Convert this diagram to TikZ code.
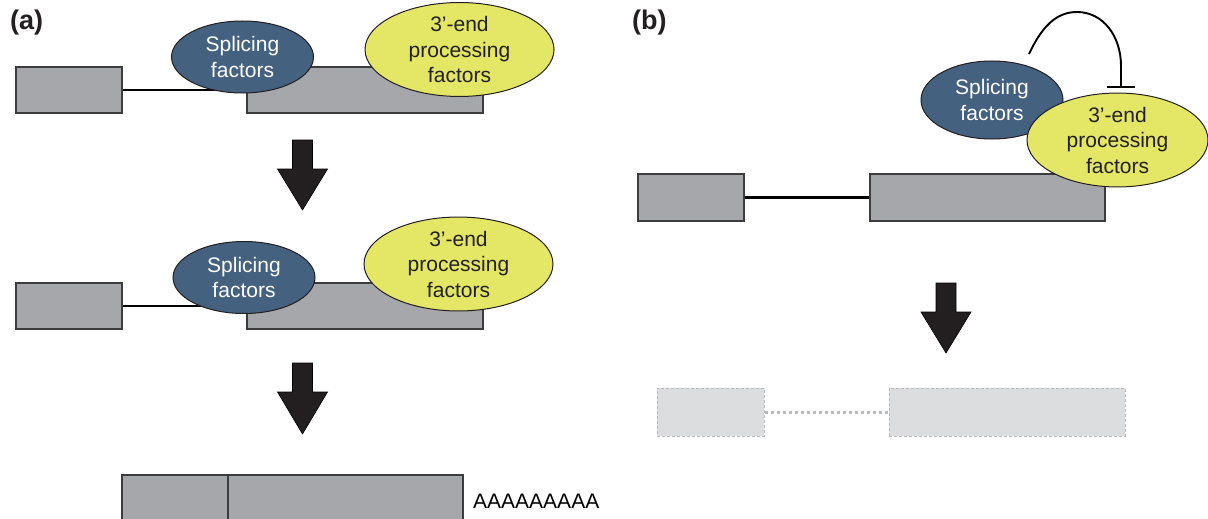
\documentclass[tikz,border=0pt]{standalone}
\usepackage{fontspec}
\setmainfont{Liberation Sans}
\usetikzlibrary{shapes.geometric,arrows.meta}

\definecolor{exongray}{HTML}{A6A7AB}
\definecolor{exonedge}{HTML}{3C3C3E}
\definecolor{splblue}{HTML}{44617F}
\definecolor{procyellow}{HTML}{E4E666}
\definecolor{fadefill}{HTML}{DCDDDF}
\definecolor{fadeedge}{HTML}{B9BABC}
\definecolor{inkblack}{HTML}{231F20}

\tikzset{
  exon/.style={rectangle, draw=exonedge, line width=1.3pt, fill=exongray,
               inner sep=0pt, minimum height=46pt},
  fadedexon/.style={rectangle, draw=fadeedge, line width=1pt,
               dash pattern=on 3pt off 2pt, fill=fadefill,
               inner sep=0pt, minimum height=48pt},
  intron/.style={draw=black, line width=2.8pt},
  fadedintron/.style={draw=fadeedge, line width=3pt, dash pattern=on 3pt off 3pt},
  factor/.style={ellipse, draw=inkblack, line width=1pt, inner sep=0pt,
               align=center, font=\fontsize{21}{25.5}\selectfont},
  splicing/.style={factor, fill=splblue, text=white,
               minimum width=142pt, minimum height=72pt},
  processing/.style={factor, fill=procyellow, text=inkblack,
               minimum width=189pt, minimum height=81pt},
  blockarrow/.style={fill=inkblack, draw=black, line width=0.6pt, line join=miter},
  panel/.style={font=\fontsize{27}{31}\selectfont\bfseries, text=inkblack,
               anchor=north west, inner sep=0pt},
}

% big downward block arrow: centre x, shaft top, head top, tip
\newcommand{\downblock}[4]{%
  \fill[blockarrow] (#1-10,#2) -- (#1+10,#2) -- (#1+10,#3) -- (#1+25,#3)
     -- (#1,#4) -- (#1-25,#3) -- (#1-10,#3) -- cycle;}

\begin{document}
\begin{tikzpicture}[x=1pt,y=-1pt]
\useasboundingbox (0,0) rectangle (1208,519);
\fill[white] (0,0) rectangle (1208,519);

% ---------------- panel (a) ----------------
\node[panel] (labA) at (10,10) {(a)};

% pre-mRNA with bound factors
\node[exon, minimum width=106pt] (a1e1) at (69,90) {};
\node[exon, minimum width=236pt] (a1e2) at (365,90) {};
\draw[intron] (a1e1.east) -- (a1e2.west);
\node[splicing] (a1spl) at (242.5,57) {Splicing\\factors};
\node[processing] (a1pro) at (459.5,49.5) {3’-end\\processing\\factors};

\downblock{302.5}{140}{169}{210}

% second state
\node[exon, minimum width=106pt] (a2e1) at (69,306) {};
\node[exon, minimum width=236pt] (a2e2) at (365,306) {};
\draw[intron] (a2e1.east) -- (a2e2.west);
\node[splicing] (a2spl) at (244,277.5) {Splicing\\factors};
\node[processing] (a2pro) at (458.5,264) {3’-end\\processing\\factors};

\downblock{302.5}{363}{392}{434}

% mature mRNA
\node[exon, minimum width=106pt] (m1) at (175,498) {};
\node[exon, minimum width=235pt] (m2) at (345.5,498) {};
\node[anchor=base west, inner sep=0pt, font=\fontsize{21}{25}\selectfont,
      text=black] (polyA) at (473,508) {AAAAAAAAA};

% ---------------- panel (b) ----------------
\node[panel] (labB) at (632,10) {(b)};

\node[exon, minimum width=106pt, minimum height=47pt] (b1e1) at (691,197.5) {};
\node[exon, minimum width=235pt, minimum height=47pt] (b1e2) at (987.5,197.5) {};
\draw[intron] (b1e1.east) -- (b1e2.west);

\node[splicing, minimum height=78pt] (bspl) at (992,100) {Splicing\\factors};
\node[processing, minimum width=181pt, minimum height=80pt] (bpro) at (1117.5,140) {3’-end\\processing\\factors};

% inhibition of 3'-end processing by the splicing factors
\coordinate (inhA) at (1029,54);
\coordinate (inhB) at (1121,88);
\draw[line width=1.9pt, -{Bar[width=28pt,line width=1.9pt]}]
  (inhA) .. controls (1043,24) and (1058,12) .. (1077,12)
  .. controls (1103,12) and (1121,36) .. (1121,66) -- (inhB);

\downblock{946}{283}{312}{353}

% transcript left unprocessed
\node[fadedexon, minimum width=107pt] (b2e1) at (710.5,412) {};
\node[fadedexon, minimum width=236pt] (b2e2) at (1007,412) {};
\draw[fadedintron] (b2e1.east) -- (b2e2.west);

\end{tikzpicture}
\end{document}
